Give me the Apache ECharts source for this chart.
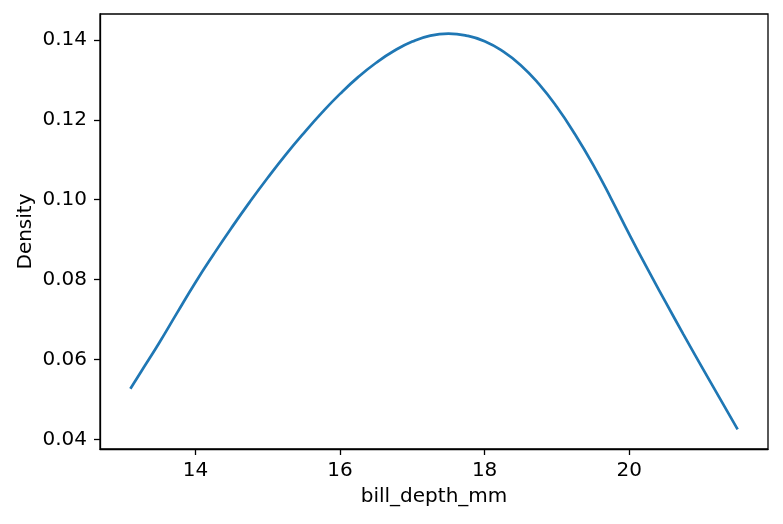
<!DOCTYPE html>
<html>
<head>
<meta charset="utf-8">
<script src="https://cdn.jsdelivr.net/npm/echarts@6/dist/echarts.min.js"></script>
<style>html,body{margin:0;padding:0;background:#fff}#c{width:783px;height:524px}</style>
</head>
<body>
<div id="c"></div>
<script>
const billDepth = [13.1, 13.25, 13.5, 13.75, 14.0, 14.25, 14.5, 14.75, 15.0, 15.25, 15.5, 15.75, 16.0, 16.25, 16.5, 16.75, 17.0, 17.25,
                   17.5, 17.75, 18.0, 18.25, 18.5, 18.75, 19.0, 19.25, 19.5, 19.75, 20.0, 20.25, 20.5, 20.75, 21.0, 21.25, 21.5];
const density   = [0.0527, 0.0570, 0.0642, 0.0718, 0.0793, 0.0863, 0.0930, 0.0994, 0.1055, 0.1113, 0.1167, 0.1218, 0.1265, 0.1307, 0.1343, 0.1373, 0.1396, 0.1411,
                   0.1416, 0.1411, 0.1397, 0.1372, 0.1337, 0.1290, 0.1232, 0.1164, 0.1088, 0.1003, 0.0914, 0.0828, 0.0745, 0.0663, 0.0583, 0.0504, 0.0425];
const xTicks = [14, 16, 18, 20];
const yTicks = [0.04, 0.06, 0.08, 0.10, 0.12, 0.14];

const chart = echarts.init(document.getElementById('c'), null, {renderer: 'canvas'});
const font = 'DejaVu Sans';
chart.setOption({
  animation: false,
  grid: {left: 100, right: 15, top: 14, bottom: 75, show: true, borderColor: '#000', borderWidth: 1.3, backgroundColor: 'transparent'},
  xAxis: {
    type: 'value', min: 12.68, max: 21.92,
    name: 'bill_depth_mm', nameLocation: 'middle', nameGap: 38, nameMoveOverlap: false,
    nameTextStyle: {fontFamily: font, fontSize: 20, color: '#000'},
    axisLine: {show: true, onZero: false, lineStyle: {color: '#000', width: 1.3}},
    axisTick: {show: true, length: 6, lineStyle: {color: '#000', width: 1.3}, customValues: xTicks},
    axisLabel: {fontFamily: font, fontSize: 20, color: '#000', margin: 12, customValues: xTicks, formatter: v => String(v)},
    splitLine: {show: false}
  },
  yAxis: {
    type: 'value', min: 0.0376, max: 0.1465,
    name: 'Density', nameLocation: 'middle', nameGap: 64, nameRotate: 90, nameMoveOverlap: false,
    nameTextStyle: {fontFamily: font, fontSize: 20, color: '#000'},
    axisLine: {show: true, onZero: false, lineStyle: {color: '#000', width: 1.3}},
    axisTick: {show: true, length: 6, lineStyle: {color: '#000', width: 1.3}, customValues: yTicks},
    axisLabel: {fontFamily: font, fontSize: 20, color: '#000', margin: 13, customValues: yTicks, formatter: v => v.toFixed(2)},
    splitLine: {show: false}
  },
  series: [{
    type: 'line',
    data: billDepth.map((x, i) => [x, density[i]]),
    smooth: 0.5,
    showSymbol: false,
    lineStyle: {color: '#1f77b4', width: 2.7},
    itemStyle: {color: '#1f77b4'}
  }]
});
</script>
</body>
</html>
